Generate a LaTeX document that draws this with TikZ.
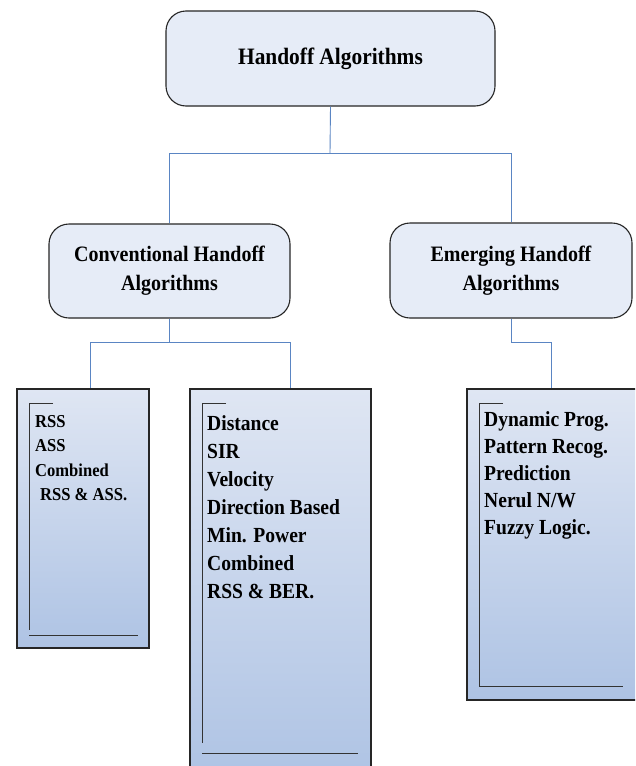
\documentclass[tikz,border=0pt]{standalone}
\usepackage{fontspec}
\setmainfont[FakeStretch=0.91]{Liberation Serif}
\begin{document}
\begin{tikzpicture}[x=1pt,y=-1pt,
  headbox/.style={draw=black!85,line width=1.1pt,fill=hdfill,rounded corners=20pt,inner sep=0pt,font=\bfseries\fontsize{22}{29}\selectfont,align=center},
  listbox/.style={draw=black!85,line width=1.1pt,top color=lsttop,bottom color=lstbot,inner sep=0pt},
  conn/.style={draw=connblue,line width=0.9pt},
  brk/.style={draw=black!80,line width=0.7pt},
  itemA/.style={anchor=base west,inner sep=0pt,font=\bfseries\fontsize{18.2}{22}\selectfont},
  itemB/.style={anchor=base west,inner sep=0pt,font=\bfseries\fontsize{21.5}{26}\selectfont}]
\definecolor{hdfill}{HTML}{E6ECF7}
\definecolor{lsttop}{HTML}{DFE6F3}
\definecolor{lstbot}{HTML}{AEC3E4}
\definecolor{connblue}{HTML}{5A85C3}
\clip (0,0) rectangle (635,766);
\fill[white] (0,0) rectangle (635,766);
% head boxes
\node[headbox,minimum width=329pt,minimum height=95pt,font=\bfseries\fontsize{23.5}{29}\selectfont] (top) at (330.5,58.5) {Handoff Algorithms};
\node[headbox,minimum width=241pt,minimum height=94pt] (conv) at (169.5,271) {Conventional Handoff\\Algorithms};
\node[headbox,minimum width=242pt,minimum height=95pt] (emer) at (511,270.5) {Emerging Handoff\\Algorithms};
% list boxes
\node[listbox,minimum width=132pt,minimum height=259pt] (l1) at (83,518.5) {};
\node[listbox,minimum width=181pt,minimum height=391pt] (l2) at (280.5,584.5) {};
\node[listbox,minimum width=173pt,minimum height=311pt] (l3) at (553.5,544.5) {};
% connectors
\coordinate (jt) at (330,153);
\coordinate (jc1) at (90,342);
\coordinate (jc2) at (290,342);
\coordinate (je) at (551,342);
\draw[conn] (top.south) -- (jt);
\draw[conn] (jt) -| (conv.north);
\draw[conn] (jt) -| (emer.north);
\draw[conn] (conv.south) |- (jc1) -- (jc1 |- l1.north);
\draw[conn] (conv.south) |- (jc2) -- (jc2 |- l2.north);
\draw[conn] (emer.south) |- (je) -- (je |- l3.north);
% inner brackets
\draw[brk] (53,403) -- (29,403) -- (29,630);
\draw[brk] (29,635) -- (138,635);
\draw[brk] (226,403) -- (202,403) -- (202,743);
\draw[brk] (202,753) -- (358,753);
\draw[brk] (503,403) -- (479,403) -- (479,686);
\draw[brk] (479,686) -- (623,686);
% list 1
\node[itemA] (a1) at (35,427) {RSS};
\node[itemA] (a2) at (35,451.5) {ASS};
\node[itemA] (a3) at (35,476) {Combined};
\node[itemA] (a4) at (40,500.5) {RSS \& ASS.};
% list 2
\node[itemB] (b1) at (207,430) {Distance};
\node[itemB] (b2) at (207,458) {SIR};
\node[itemB] (b3) at (207,486) {Velocity};
\node[itemB] (b4) at (207,514) {Direction Based};
\node[itemB] (b5) at (207,542) {Min. Power};
\node[itemB] (b6) at (207,570) {Combined};
\node[itemB] (b7) at (207,598) {RSS \& BER.};
% list 3
\node[itemB] (c1) at (484,426) {Dynamic Prog.};
\node[itemB] (c2) at (484,453) {Pattern Recog.};
\node[itemB] (c3) at (484,480) {Prediction};
\node[itemB] (c4) at (484,507) {Nerul N/W};
\node[itemB] (c5) at (484,534) {Fuzzy Logic.};
\end{tikzpicture}
\end{document}
